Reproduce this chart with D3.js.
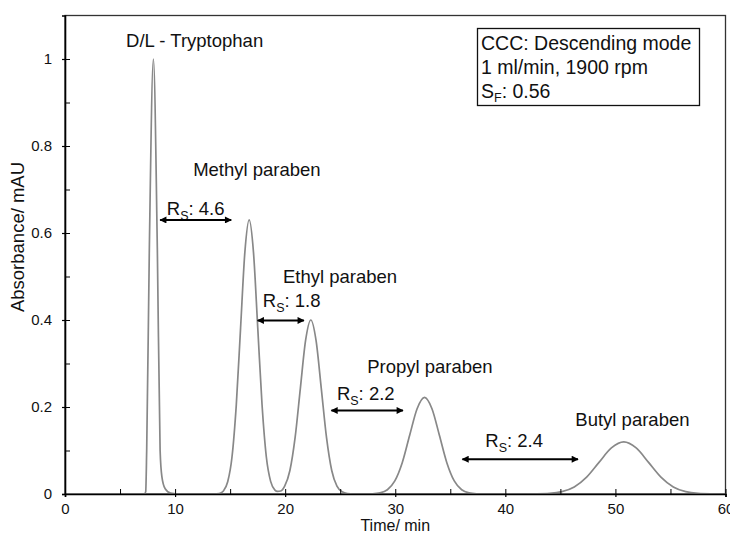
<!DOCTYPE html>
<html><head><meta charset="utf-8">
<script src="https://cdn.jsdelivr.net/npm/d3@7"></script>
<style>
html,body{margin:0;padding:0;background:#fff;}
svg text{font-family:"Liberation Sans",Arial,sans-serif;fill:#111;}
</style></head>
<body><svg id="chart" width="730" height="536"></svg>
<script>
// Chromatogram trace [time (min), absorbance (mAU)]
const trace = [
 [0,0],[2,0],[4,0],[6,0],[7.0,0],[7.2,0],[7.33,0.005],[7.42,0.10],[7.66,0.56],[8.03,1.0],
 [8.39,0.56],[8.64,0.10],[8.8,0.04],[9.1,0.012],[9.6,0.002],[10.5,0],[12,0],[13.5,0],
 [14.0,0.001],[14.39,0.007],[14.78,0.028],[15.17,0.085],[15.56,0.205],[15.95,0.382],[16.34,0.556],
 [16.73,0.630],[17.12,0.556],[17.51,0.382],[17.90,0.205],[18.29,0.085],[18.68,0.029],[19.07,0.009],
 [19.3,0.006],[19.6,0.007],[19.955,0.018],[20.43,0.054],[20.905,0.130],[21.38,0.243],[21.855,0.353],
 [22.33,0.400],[22.805,0.353],[23.28,0.243],[23.755,0.130],[24.23,0.054],[24.705,0.018],[25.18,0.005],
 [25.655,0.001],[26.2,0],[27.0,0],[27.935,0.0005],[28.61,0.0025],[29.285,0.0097],[29.96,0.030],
 [30.635,0.072],[31.31,0.135],[31.985,0.196],[32.66,0.222],[33.335,0.196],[34.01,0.135],[34.685,0.072],
 [35.36,0.030],[36.035,0.0097],[36.71,0.0025],[37.385,0.0005],[38.5,0],[40,0],[41.5,0],
 [42.885,0.0003],[44.01,0.0013],[45.135,0.0053],[46.26,0.0162],[47.385,0.039],[48.51,0.0728],
 [49.635,0.1059],[50.76,0.120],[51.885,0.1059],[53.01,0.0728],[54.135,0.039],[55.26,0.0162],
 [56.385,0.0053],[57.51,0.0013],[58.635,0.0003],[60,0]
];
const xTicks = [0,10,20,30,40,50,60];
const xMinor = [5,15,25,35,45,55];
const yTicks = [0,0.2,0.4,0.6,0.8,1];
const yTickLabels = ["0","0.2","0.4","0.6","0.8","1"];
const yMinor = [0.1,0.3,0.5,0.7,0.9];
// peak labels: [text, time, absorbance]
const peakLabels = [
 ["D/L - Tryptophan",5.55,1.028],
 ["Methyl paraben",11.64,0.731],
 ["Ethyl paraben",19.8,0.485],
 ["Propyl paraben",27.45,0.278],
 ["Butyl paraben",46.36,0.156]
];
// resolution values: [value, label time, label abs, arrow start, arrow end, arrow abs]
const resolutions = [
 ["4.6",9.25,0.641,8.64,15.1,0.630],
 ["1.8",17.97,0.431,17.5,21.7,0.399],
 ["2.2",24.7,0.216,24.2,30.7,0.192],
 ["2.4",38.18,0.109,36.1,46.6,0.080]
];
const infoLines = ["CCC: Descending mode","1 ml/min, 1900 rpm"];
const sfValue = "0.56";

const svg = d3.select("#chart");
const m = {l:65, t:15.5, r:725.5, b:494};
const x = d3.scaleLinear().domain([0,60]).range([m.l,m.r]);
const y = d3.scaleLinear().domain([0,1.1]).range([m.b,m.t]);

// arrow markers
const defs = svg.append("defs");
function mk(id, d){
  defs.append("marker").attr("id",id).attr("viewBox","0 0 10 10").attr("refX",d==="end"?9:1).attr("refY",5)
   .attr("markerWidth",8).attr("markerHeight",7).attr("markerUnits","userSpaceOnUse").attr("orient","auto")
   .append("path").attr("d",d==="end"?"M0,0 L10,5 L0,10 Z":"M10,0 L0,5 L10,10 Z").attr("fill","#000");
}
mk("ae","end"); mk("as","start");

// frame
svg.append("rect").attr("x",m.l).attr("y",m.t).attr("width",m.r-m.l).attr("height",m.b-m.t)
  .attr("fill","none").attr("stroke","#333").attr("stroke-width",1.3);

// trace
svg.append("path").datum(trace)
  .attr("d", d3.line().x(d=>x(d[0])).y(d=>y(d[1])).curve(d3.curveMonotoneX))
  .attr("fill","none").attr("stroke","#888").attr("stroke-width",1.7);

// axes
const xAxis = svg.append("g").attr("transform",`translate(0,${m.b})`)
  .call(d3.axisBottom(x).tickValues(xTicks).tickSize(3).tickPadding(6).tickFormat(d3.format("d")));
const yAxis = svg.append("g").attr("transform",`translate(${m.l},0)`)
  .call(d3.axisLeft(y).tickValues(yTicks).tickSize(3).tickPadding(10).tickFormat((d,i)=>yTickLabels[i]));
[xAxis,yAxis].forEach(g=>{
  g.select(".domain").attr("stroke","#000").attr("stroke-width",1.6);
  g.selectAll(".tick line").attr("stroke","#000").attr("stroke-width",1.2);
  g.selectAll(".tick text").attr("font-size","15px").attr("font-family","Liberation Sans, Arial, sans-serif").attr("fill","#111");
});
// inner ticks
svg.append("g").attr("transform",`translate(0,${m.b})`)
  .call(d3.axisBottom(x).tickValues(xTicks.concat(xMinor)).tickSize(-5).tickFormat(""))
  .call(g=>{g.select(".domain").remove(); g.selectAll("line").attr("stroke","#000").attr("stroke-width",1);});
svg.append("g").attr("transform",`translate(${m.l},0)`)
  .call(d3.axisLeft(y).tickValues(yTicks.concat(yMinor)).tickSize(-5).tickFormat(""))
  .call(g=>{g.select(".domain").remove(); g.selectAll("line").attr("stroke","#000").attr("stroke-width",1);});

// axis titles
svg.append("text").attr("x",(m.l+m.r)/2).attr("y",531).attr("text-anchor","middle")
  .attr("font-size","16px").text("Time/ min");
svg.append("text").attr("transform",`translate(24,237) rotate(-90)`).attr("text-anchor","middle")
  .attr("font-size","18.5px").text("Absorbance/ mAU");

// peak labels
svg.selectAll(".pl").data(peakLabels).enter().append("text")
  .attr("x",d=>x(d[1])).attr("y",d=>y(d[2])).attr("font-size","18.5px").text(d=>d[0]);

// resolution labels + arrows
resolutions.forEach(r=>{
  const t = svg.append("text").attr("x",x(r[1])).attr("y",y(r[2])).attr("font-size","18.5px");
  t.append("tspan").text("R");
  t.append("tspan").attr("font-size","12.5px").attr("dy",5).text("S");
  t.append("tspan").attr("dy",-5).text(": "+r[0]);
  svg.append("line").attr("x1",x(r[3])).attr("x2",x(r[4])).attr("y1",y(r[5])).attr("y2",y(r[5]))
    .attr("stroke","#000").attr("stroke-width",2)
    .attr("marker-start","url(#as)").attr("marker-end","url(#ae)");
});

// info box
svg.append("rect").attr("x",477.5).attr("y",28.5).attr("width",222).attr("height",77)
  .attr("fill","#fff").attr("stroke","#111").attr("stroke-width",1.3);
infoLines.forEach((s,i)=>{
  svg.append("text").attr("x",481).attr("y",50+i*24).attr("font-size","19.5px").text(s);
});
const sf = svg.append("text").attr("x",481).attr("y",98).attr("font-size","19.5px");
sf.append("tspan").text("S");
sf.append("tspan").attr("font-size","12.5px").attr("dy",4).text("F");
sf.append("tspan").attr("dy",-4).text(": "+sfValue);
</script></body></html>
